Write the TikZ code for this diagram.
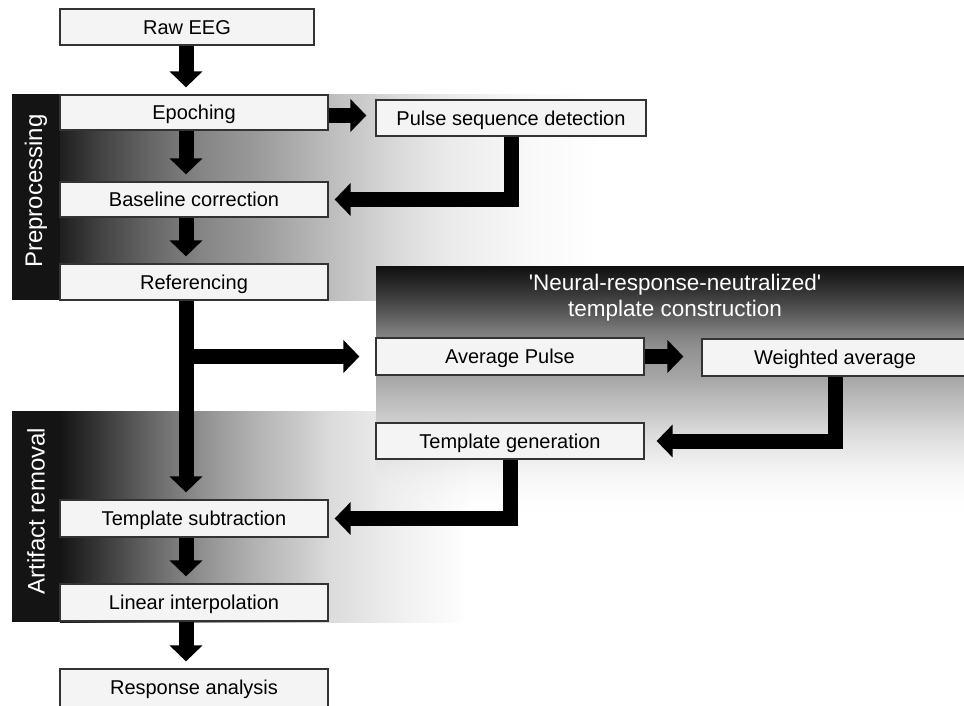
\documentclass[tikz,border=0pt]{standalone}
\usepackage{fontspec}
\setmainfont{Liberation Sans}
\usetikzlibrary{arrows.meta,fadings}
\definecolor{ga}{gray}{0.12}
\definecolor{gb}{gray}{0.26}
\definecolor{gc}{gray}{0.40}
\definecolor{gd}{gray}{0.52}
\definecolor{ge}{gray}{0.61}
\definecolor{gf}{gray}{0.74}
\definecolor{gg}{gray}{0.86}
\definecolor{gh}{gray}{0.92}
\definecolor{gi}{gray}{0.975}
\definecolor{aa}{gray}{0.08}
\definecolor{ab}{gray}{0.22}
\definecolor{ac}{gray}{0.40}
\definecolor{ad}{gray}{0.56}
\definecolor{ae}{gray}{0.69}
\definecolor{af}{gray}{0.79}
\definecolor{ag}{gray}{0.86}
\definecolor{ah}{gray}{0.94}
\definecolor{ta}{gray}{0.06}
\definecolor{tb}{gray}{0.20}
\definecolor{tc}{gray}{0.33}
\definecolor{td}{gray}{0.48}
\definecolor{te}{gray}{0.56}
\definecolor{tf}{gray}{0.66}
\definecolor{tg}{gray}{0.74}
\definecolor{th}{gray}{0.79}
\definecolor{strip}{gray}{0.08}
\definecolor{boxfill}{gray}{0.955}
\definecolor{boxline}{gray}{0.2}
\pgfdeclarehorizontalshading{preshade}{100bp}{color(0bp)=(ga); color(25bp)=(ga); color(28.7bp)=(gb); color(33.3bp)=(gc); color(38bp)=(gd); color(43.5bp)=(ge); color(50bp)=(gf); color(56.5bp)=(gg); color(61.1bp)=(gh); color(68.5bp)=(gi); color(75bp)=(white); color(100bp)=(white)}
\pgfdeclarehorizontalshading{artshade}{100bp}{color(0bp)=(aa); color(25bp)=(aa); color(29.9bp)=(ab); color(36bp)=(ac); color(42.1bp)=(ad); color(48.2bp)=(ae); color(54.3bp)=(af); color(57.9bp)=(ag); color(66.5bp)=(ah); color(75bp)=(white); color(100bp)=(white)}
\pgfdeclareverticalshading{tmplshade}{100bp}{color(0bp)=(th); color(25bp)=(th); color(30bp)=(tg); color(36.7bp)=(tf); color(48.5bp)=(te); color(53.5bp)=(td); color(60.2bp)=(tc); color(66.9bp)=(tb); color(75bp)=(ta); color(100bp)=(ta)}
\begin{document}
\begin{tikzpicture}[x=1pt,y=-1pt,
  box/.style={draw=boxline, line width=1.2pt, fill=boxfill, inner sep=0pt,
    text height=14.3pt, text depth=0pt,
    font=\fontsize{20}{22}\selectfont},
  arr/.style={line width=15pt, line join=miter, draw=black,
    -{Triangle[length=16pt,width=32pt]}},
  sidelabel/.style={text=white, rotate=90, inner sep=0pt,
    font=\fontsize{24}{28}\selectfont},
  headlabel/.style={text=white, align=center, inner sep=0pt,
    font=\fontsize{22.5}{26}\selectfont}]
\useasboundingbox (0,0) rectangle (964,705);
% bands
\fill[strip] (12,94) rectangle (60,300);
\shade[shading=preshade] (60,94) rectangle (600,300);
\fill[strip] (12,411) rectangle (60,622);
\shade[shading=artshade] (60,411) rectangle (470,622);
\shade[shading=tmplshade] (376,266) rectangle (964,415.5);
\shade[top color=th, bottom color=white, path fading=south] (376,415) rectangle (964,520);
\node[sidelabel] (prelbl) at (36,191) {Preprocessing};
\node[sidelabel] (artlbl) at (36,511) {Artifact removal};
\node[headlabel] (head) at (675,298) {\textquotesingle Neural-response-neutralized\textquotesingle\\template construction};
% boxes
\node[box, minimum width=254pt, minimum height=36pt] (raw) at (187,27) {Raw EEG};
\node[box, minimum width=268pt, minimum height=35pt] (epo) at (194,112.5) {Epoching};
\node[box, minimum width=270pt, minimum height=36pt] (pulse) at (511,118) {Pulse sequence detection};
\node[box, minimum width=268pt, minimum height=35pt] (base) at (194,199.5) {Baseline correction};
\node[box, minimum width=268pt, minimum height=36pt] (ref) at (194,282) {Referencing};
\node[box, minimum width=268pt, minimum height=37pt] (avg) at (510,356.5) {Average Pulse};
\node[box, minimum width=266pt, minimum height=37pt] (wavg) at (835,357.5) {Weighted average};
\node[box, minimum width=268pt, minimum height=36pt] (tgen) at (510,441) {Template generation};
\node[box, minimum width=268pt, minimum height=37pt] (tsub) at (194,518.5) {Template subtraction};
\node[box, minimum width=268pt, minimum height=37pt] (lin) at (194,602.5) {Linear interpolation};
\node[box, minimum width=268pt, minimum height=41pt] (resp) at (194,689.5) {\raisebox{2pt}{Response analysis}};
% connectors
\coordinate (spine) at (186,0);
\coordinate (br) at (spine |- avg.west);
\draw[arr, shorten >=7pt] (spine |- raw.south) -- (spine |- epo.north);
\draw[arr, shorten >=7pt] (spine |- epo.south) -- (spine |- base.north);
\draw[arr, shorten >=7pt] (spine |- base.south) -- (spine |- ref.north);
\draw[arr, shorten >=7pt] (spine |- ref.south) -- (spine |- tsub.north);
\draw[arr, shorten >=7pt] (spine |- tsub.south) -- (spine |- lin.north);
\draw[arr, shorten >=7pt] (spine |- lin.south) -- (spine |- resp.north);
\draw[arr, shorten >=9pt] ([yshift=-3pt]epo.east) -- ([yshift=-3pt]epo.east -| pulse.west);
\draw[arr, shorten >=6pt] (pulse.south) |- (base.east);
\draw[arr, shorten >=16pt] (br) -- (avg.west);
\draw[arr, shorten >=18pt] (avg.east) -- (avg.east -| wavg.west);
\draw[arr, shorten >=12pt] (wavg.south) |- (tgen.east);
\draw[arr, shorten >=6pt] (tgen.south) |- (tsub.east);
\end{tikzpicture}
\end{document}
